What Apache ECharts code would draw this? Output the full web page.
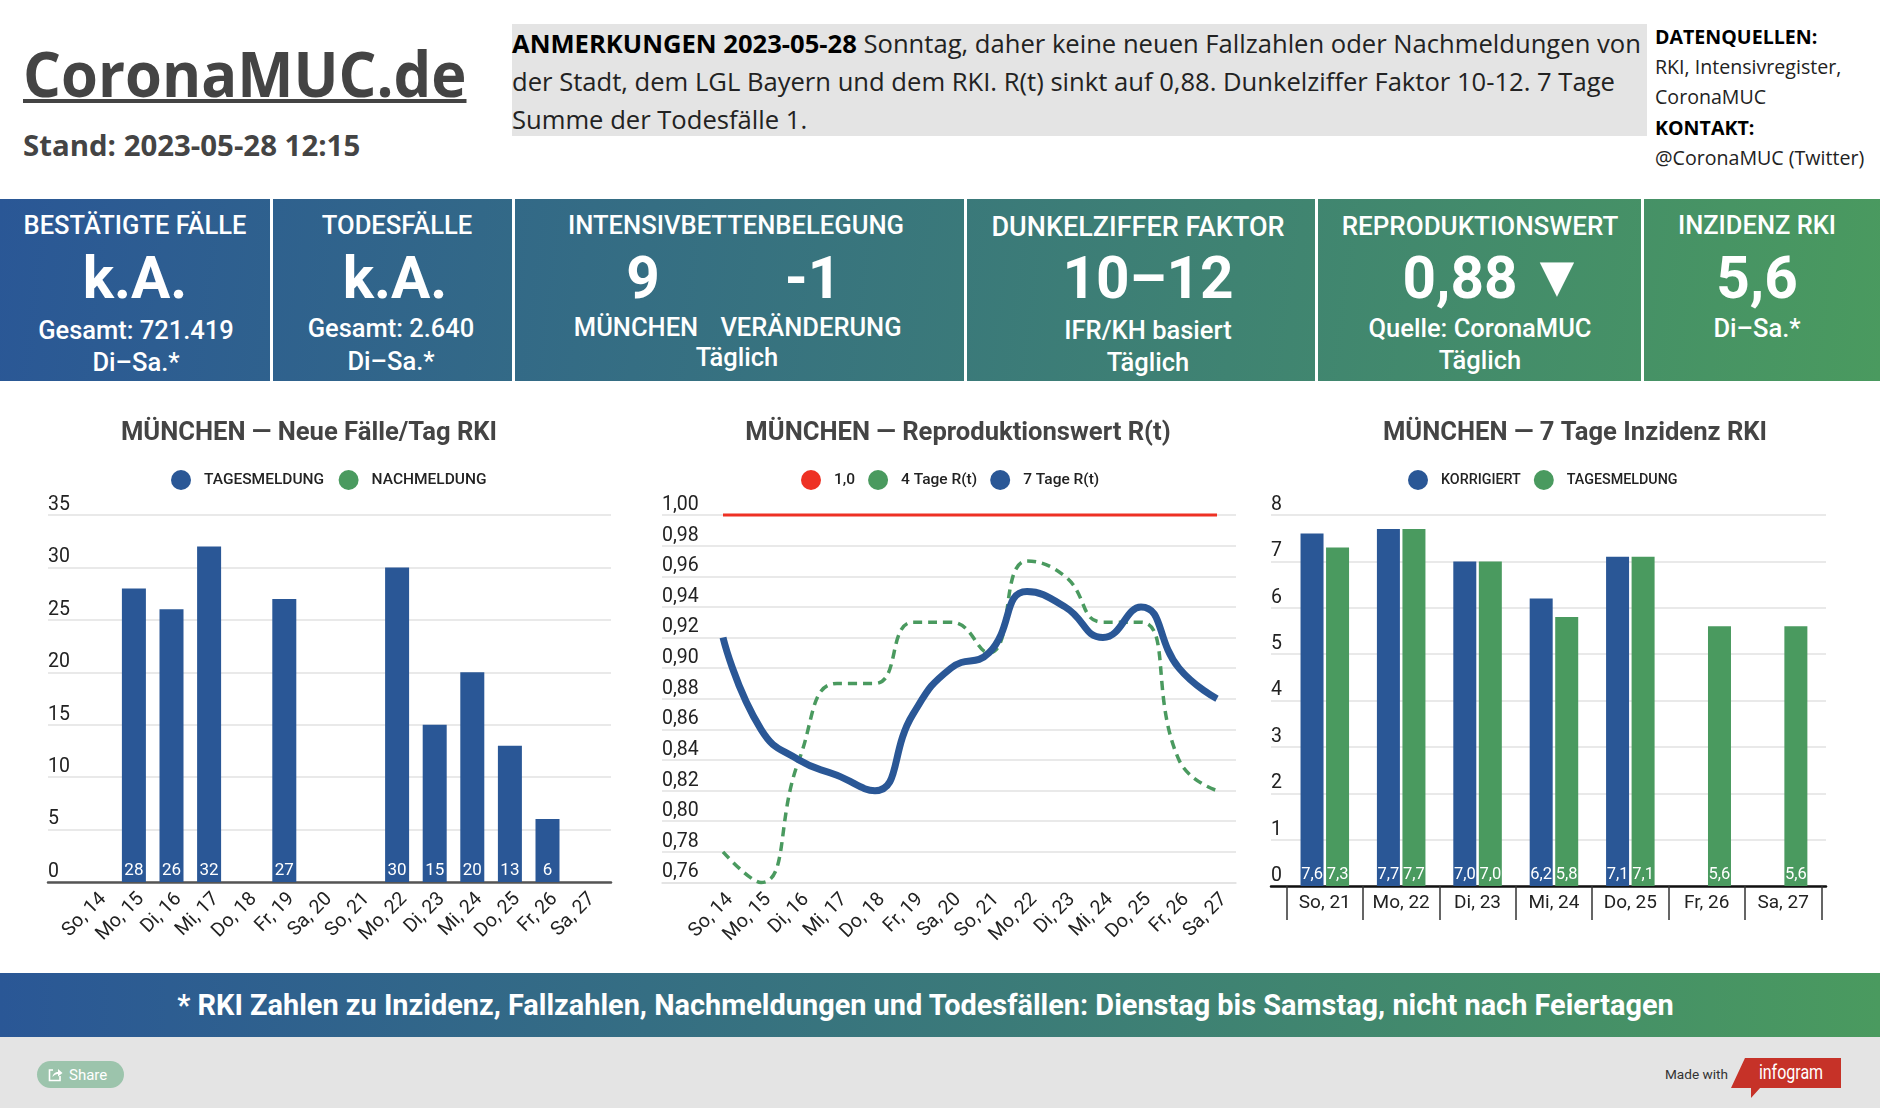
<!DOCTYPE html>
<html>
<head>
<meta charset="utf-8">
<title>CoronaMUC.de</title>
<script src="https://cdn.jsdelivr.net/npm/echarts@6/dist/echarts.min.js"></script>
<style>
    html, body { margin: 0; padding: 0; background: #fff; }
    #page { position: relative; width: 1880px; height: 1108px; overflow: hidden; font-family: Roboto, sans-serif; }
    .abs { position: absolute; }
    .logo { left: 23px; top: 31px; font: 700 62px "Open Sans"; color: #444; white-space: nowrap; transform: scaleX(0.962); transform-origin: left center; text-decoration: underline; text-decoration-thickness: 4px; text-underline-offset: 2px; }
    .stand { left: 23px; top: 125px; font: 700 29.4px "Open Sans"; color: #444; white-space: nowrap; }
    .notes { left: 512px; top: 24px; width: 1135px; height: 112px; background: #e4e4e4; font: 400 25.6px/38px "Open Sans"; color: #222; white-space: nowrap; }
    .notes div { position: relative; top: 1px; }
    .notes b { color: #000; }
    .sources { left: 1655px; top: 22px; font: 400 19.6px/30.2px "Open Sans"; color: #222; white-space: nowrap; }
    .sources b { color: #000; }
    .cards { left: 0; top: 199px; width: 1880px; height: 182px; background: linear-gradient(97deg, #2a5796, #4a9a5f); }
    .sep { top: 199px; width: 3px; height: 182px; background: #fff; }
    .t { position: absolute; transform: translate(-50%, -50%); color: #fff; white-space: nowrap; }
    .head { font-weight: 500; }
    .big { font-size: 58.5px; font-weight: 700; }
    .sub { font-size: 25.5px; font-weight: 500; }
    .chart { position: absolute; top: 400px; height: 573px; }
    .foot { left: 0; top: 973px; width: 1851px; padding-right: 29px; height: 64px; background: linear-gradient(90deg, #2a5796, #4a9a5f); color: #fff; font: 700 28.9px/64px Roboto; text-align: center; }
    .bottom { left: 0; top: 1037px; width: 1880px; height: 71px; background: #e4e4e4; }
    .share { left: 37px; top: 1061px; width: 87px; height: 27px; border-radius: 14px; background: #9cc4ac; }
    .share svg { position: absolute; left: 11px; top: 6px; }
    .share span { position: absolute; left: 32px; top: 0; color: #fff; font: 400 15px/28px Roboto; }
    .made { left: 1665px; top: 1064px; font: 400 13.6px/20px Roboto; color: #333; white-space: nowrap; }
    .flag { left: 1731px; top: 1058px; width: 110px; height: 40px; background: #c63228; clip-path: polygon(12.7% 0, 100% 0, 100% 75%, 26.4% 75%, 18.2% 100%, 18.2% 75%, 0 75%); }
    .flagtext { left: 1791px; top: 1072px; color: #fff; font: 400 20px Roboto; transform: translate(-50%, -50%) scaleX(0.8); white-space: nowrap; }
</style>
</head>
<body>
<div id="page">
    <div class="abs logo">CoronaMUC.de</div>
    <div class="abs stand">Stand: 2023-05-28 12:15</div>
    <div class="abs notes"><div><b style="font-weight:700">ANMERKUNGEN 2023-05-28</b> Sonntag, daher keine neuen Fallzahlen oder Nachmeldungen von<br>der Stadt, dem LGL Bayern und dem RKI. R(t) sinkt auf 0,88. Dunkelziffer Faktor 10-12. 7 Tage<br>Summe der Todesfälle 1.</div></div>
    <div class="abs sources"><b>DATENQUELLEN:</b><br>RKI, Intensivregister,<br>CoronaMUC<br><b>KONTAKT:</b><br>@CoronaMUC (Twitter)</div>
    <div class="abs cards"></div>
    <div id="cardText"></div>
    <div id="c1" class="chart" style="left:0;width:640px"></div>
    <div id="c2" class="chart" style="left:640px;width:620px"></div>
    <div id="c3" class="chart" style="left:1260px;width:620px"></div>
    <div class="abs foot">* RKI Zahlen zu Inzidenz, Fallzahlen, Nachmeldungen und Todesfällen: Dienstag bis Samstag, nicht nach Feiertagen</div>
    <div class="abs bottom"></div>
    <div class="abs share">
        <svg width="15" height="15" viewBox="0 0 15 15"><path d="M5 3H1.5V13.5H12V9" fill="none" stroke="#fff" stroke-width="1.6"/><path d="M4.5 10C5 6.5 7.5 5 10 5V2L14.5 6L10 9.5V7C8 7 6 8 4.5 10Z" fill="#fff"/></svg>
        <span>Share</span>
    </div>
    <div class="abs made">Made with</div>
    <div class="abs flag"></div>
    <div class="abs flagtext">infogram</div>
</div>
<script>
const BLUE = '#2a5796'
const GREEN = '#4a9a5f'
const RED = '#ee3124'
const GRID_GREY = '#e2e2e2'

/* --------- header cards ----------- */
const separators = [270, 512, 964, 1315, 1641]
// class, text, x, y, font size
const cardTexts = [
    ['head', 'BESTÄTIGTE FÄLLE', 135, 225, 25.5], ['big', 'k.A.', 135, 278], ['sub', 'Gesamt: 721.419', 136, 330], ['sub', 'Di–Sa.*', 136, 362],
    ['head', 'TODESFÄLLE', 397, 225, 25.6], ['big', 'k.A.', 395, 278], ['sub', 'Gesamt: 2.640', 391, 328], ['sub', 'Di–Sa.*', 391, 361],
    ['head', 'INTENSIVBETTENBELEGUNG', 736, 225, 25.6], ['big', '9', 643, 278], ['big', '-1', 813, 278], ['sub', 'MÜNCHEN', 636, 327], ['sub', 'VERÄNDERUNG', 811, 327], ['sub', 'Täglich', 737, 357],
    ['head', 'DUNKELZIFFER FAKTOR', 1138, 227, 27], ['big', '10–12', 1148, 278], ['sub', 'IFR/KH basiert', 1148, 330], ['sub', 'Täglich', 1148, 362],
    ['head', 'REPRODUKTIONSWERT', 1480, 226, 26], ['big', '0,88', 1460, 278], ['big', '▼', 1557, 276], ['sub', 'Quelle: CoronaMUC', 1480, 328], ['sub', 'Täglich', 1480, 360],
    ['head', 'INZIDENZ RKI', 1757, 225, 25.5], ['big', '5,6', 1757, 278], ['sub', 'Di–Sa.*', 1757, 328],
]
const cardBox = document.getElementById('cardText')
separators.forEach((x) => {
    const d = document.createElement('div')
    d.className = 'abs sep'
    d.style.left = x + 'px'
    cardBox.appendChild(d)
})
cardTexts.forEach(([cls, text, x, y, size]) => {
    const d = document.createElement('div')
    d.className = 't ' + cls
    d.textContent = text
    d.style.left = x + 'px'
    d.style.top = y + 'px'
    if (size) d.style.fontSize = size + 'px'
    cardBox.appendChild(d)
})

/* --------- chart data ----------- */
const days14 = ['So, 14', 'Mo, 15', 'Di, 16', 'Mi, 17', 'Do, 18', 'Fr, 19', 'Sa, 20', 'So, 21', 'Mo, 22', 'Di, 23', 'Mi, 24', 'Do, 25', 'Fr, 26', 'Sa, 27']
const days7 = ['So, 21', 'Mo, 22', 'Di, 23', 'Mi, 24', 'Do, 25', 'Fr, 26', 'Sa, 27']

const newCases = [null, 28, 26, 32, null, 27, null, null, 30, 15, 20, 13, 6, null]
const lateCases = [null, null, null, null, null, null, null, null, null, null, null, null, null, null]

const rOne = [1, 1, 1, 1, 1, 1, 1, 1, 1, 1, 1, 1, 1, 1]
const r4 = [0.78, 0.76, 0.84, 0.89, 0.89, 0.93, 0.93, 0.91, 0.97, 0.96, 0.93, 0.93, 0.84, 0.82]
const r7 = [0.92, 0.86, 0.84, 0.83, 0.82, 0.87, 0.90, 0.91, 0.95, 0.94, 0.92, 0.94, 0.90, 0.88]

const incCorrected = [7.6, 7.7, 7.0, 6.2, 7.1, null, null]
const incDaily = [7.3, 7.7, 7.0, 5.8, 7.1, 5.6, 5.6]

/* --------- helpers ----------- */
const comma = (digits) => (v) => Number(v).toFixed(digits).replace('.', ',')

// the grey lines run wider than the categories, so the value axis sits on a
// wider grid behind the one which holds the category axis
function frame(o) {
    return {
        title: {
            text: o.title,
            left: o.titleX,
            top: 21,
            padding: 0,
            textAlign: 'center',
            textStyle: { fontFamily: 'Roboto', fontSize: 25.6, fontWeight: 700, color: '#444' },
        },
        legend: {
            left: o.legendX,
            top: 70,
            padding: 0,
            icon: 'circle',
            itemWidth: 20,
            itemHeight: 20,
            itemGap: o.legendGap,
            selectedMode: false,
            textStyle: { fontFamily: 'Roboto', fontSize: o.legendSize, fontWeight: 500, color: '#222', padding: [0, 0, 0, 8] },
        },
        animation: false,
        grid: [
            { left: o.backLeft, width: o.backWidth, top: 115, height: o.plotHeight },
            { left: o.frontLeft, width: o.frontWidth, top: 115, height: o.plotHeight },
        ],
        xAxis: [
            {
                type: 'value', gridIndex: 0, min: 0, max: 1,
                axisLabel: { show: false }, axisTick: { show: false }, splitLine: { show: false },
                axisLine: { show: true, onZero: false, lineStyle: { color: o.baseColor, width: o.baseWidth } },
            },
            {
                type: 'category', gridIndex: 1, data: o.days,
                axisLine: { show: false },
                axisTick: { show: o.ticks > 0, length: o.ticks, lineStyle: { color: '#333', width: 1.5 } },
                axisLabel: {
                    interval: 0, rotate: o.rotate, margin: o.labelMargin, verticalAlign: 'top',
                    fontFamily: 'Roboto', fontSize: o.xSize, color: '#222',
                },
            },
        ],
        yAxis: [
            {
                type: 'value', gridIndex: 0, min: o.min, max: o.max, interval: o.interval,
                axisLine: { show: false }, axisTick: { show: false },
                axisLabel: {
                    inside: true, margin: 0, verticalAlign: 'bottom',
                    fontFamily: 'Roboto', fontSize: 19.5, color: '#222', formatter: o.yFormat,
                },
                splitLine: { show: true, lineStyle: { color: GRID_GREY, width: 1.5 } },
            },
            { type: 'value', gridIndex: 1, min: o.min, max: o.max, interval: o.interval, show: false },
        ],
        series: o.series,
    }
}

function barSeries(name, color, data, width, digits, fontSize, extra) {
    return Object.assign({
        name,
        type: 'bar',
        xAxisIndex: 1,
        yAxisIndex: 1,
        data,
        barWidth: width,
        itemStyle: { color },
        label: {
            show: true, position: 'insideBottom', distance: 3, color: '#fff',
            fontFamily: 'Roboto', fontSize, formatter: (p) => comma(digits)(p.value),
        },
    }, extra)
}

function lineSeries(name, color, data, width, dashed) {
    return {
        name,
        type: 'line',
        xAxisIndex: 1,
        yAxisIndex: 1,
        data,
        smooth: 0.5,
        showSymbol: false,
        symbol: 'none',
        clip: false,
        itemStyle: { color },
        lineStyle: { color, width, type: dashed ? [9, 6] : 'solid' },
    }
}

/* --------- charts ----------- */
echarts.init(document.getElementById('c1')).setOption(frame({
    title: 'MÜNCHEN — Neue Fälle/Tag RKI', titleX: 309, legendX: 171, legendGap: 14.5, legendSize: 15.5, days: days14,
    backLeft: 48, backWidth: 563, frontLeft: 77.5, frontWidth: 526.4, plotHeight: 367,
    baseColor: '#555', baseWidth: 2.5, ticks: 0, rotate: 45, labelMargin: 7, xSize: 19.5,
    min: 0, max: 35, interval: 5, yFormat: (v) => v,
    series: [
        barSeries('TAGESMELDUNG', BLUE, newCases, 24, 0, 17, { stack: 'cases' }),
        barSeries('NACHMELDUNG', GREEN, lateCases, 24, 0, 17, { stack: 'cases' }),
    ],
}))

echarts.init(document.getElementById('c2')).setOption(frame({
    title: 'MÜNCHEN — Reproduktionswert R(t)', titleX: 318, legendX: 161, legendGap: 13, legendSize: 15.5, days: days14,
    backLeft: 22, backWidth: 574, frontLeft: 64, frontWidth: 532, plotHeight: 367.5,
    baseColor: GRID_GREY, baseWidth: 1.5, ticks: 0, rotate: 45, labelMargin: 7, xSize: 19.5,
    min: 0.76, max: 1, interval: 0.02, yFormat: comma(2),
    series: [
        lineSeries('1,0', RED, rOne, 3, false),
        lineSeries('4 Tage R(t)', GREEN, r4, 3.5, true),
        lineSeries('7 Tage R(t)', BLUE, r7, 7, false),
    ],
}))

echarts.init(document.getElementById('c3')).setOption(frame({
    title: 'MÜNCHEN — 7 Tage Inzidenz RKI', titleX: 315, legendX: 148, legendGap: 13, legendSize: 14.3, days: days7,
    backLeft: 11, backWidth: 555, frontLeft: 26.6, frontWidth: 534.7, plotHeight: 371,
    baseColor: '#111', baseWidth: 2.5, ticks: 34, rotate: 0, labelMargin: 8, xSize: 19,
    min: 0, max: 8, interval: 1, yFormat: (v) => v,
    series: [
        barSeries('KORRIGIERT', BLUE, incCorrected, 23, 1, 16.5, { barGap: '11%' }),
        barSeries('TAGESMELDUNG', GREEN, incDaily, 23, 1, 16.5, { barGap: '11%' }),
    ],
}))
</script>
</body>
</html>
